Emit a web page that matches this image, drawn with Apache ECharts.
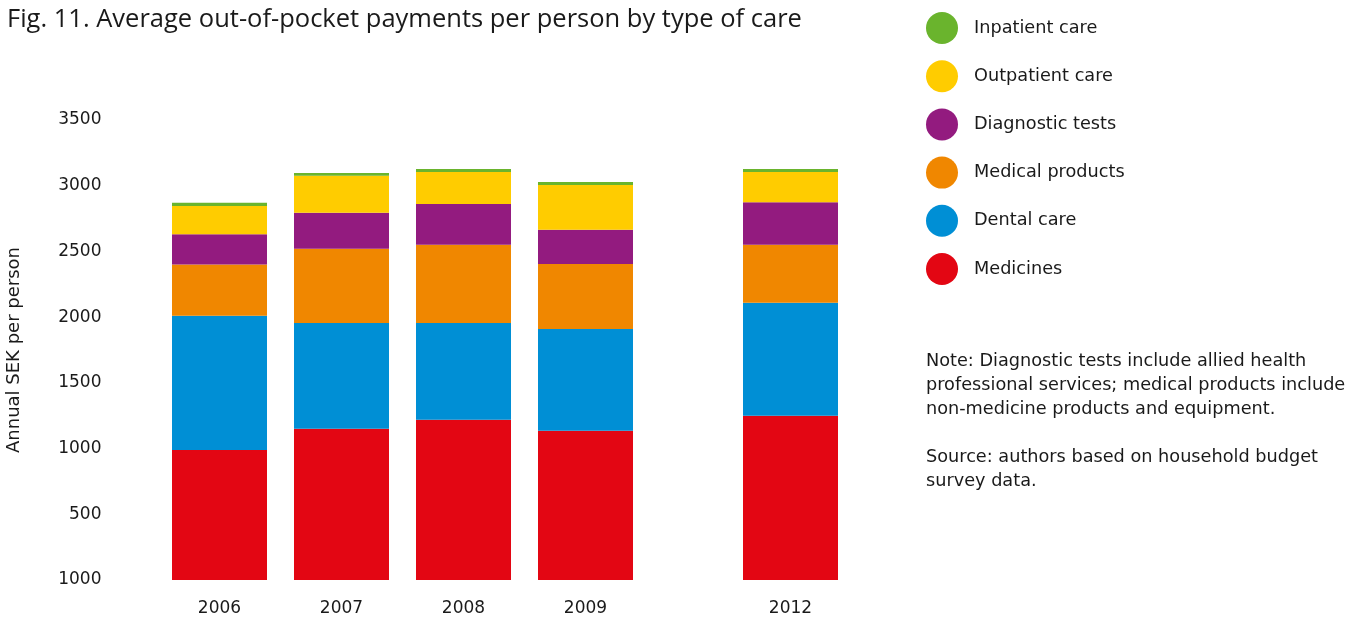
<!DOCTYPE html>
<html>
<head>
<meta charset="utf-8">
<script src="https://cdn.jsdelivr.net/npm/echarts@6/dist/echarts.min.js"></script>
<style>html,body{margin:0;padding:0;background:#fff;}#c{width:1361px;height:619px;}</style>
</head>
<body>
<div id="c"></div>
<script>
const years = ['2006', '2007', '2008', '2009', '2012'];
const medicines = [990, 1150, 1220, 1135, 1250];
const dentalCare = [1020, 805, 735, 775, 860];
const medicalProducts = [390, 565, 595, 495, 440];
const diagnosticTests = [230, 275, 310, 260, 325];
const outpatientCare = [215, 280, 245, 340, 230];
const inpatientCare = [25, 22, 22, 23, 22];
const yTickLabels = ['1000', '500', '1000', '1500', '2000', '2500', '3000', '3500'];

// years 2006-2009 in the first block, 2012 in a second block after a gap
const splitAt = 4;
const font = '"DejaVu Sans", "Noto Sans", sans-serif';
const txt = '#1a1a1a';

const seriesDefs = [
  ['Medicines', medicines, '#e30613'],
  ['Dental care', dentalCare, '#008fd5'],
  ['Medical products', medicalProducts, '#f08700'],
  ['Diagnostic tests', diagnosticTests, '#931b7f'],
  ['Outpatient care', outpatientCare, '#ffcc00'],
  ['Inpatient care', inpatientCare, '#6ab42d']
];

const xAxisCommon = {
  type: 'category',
  axisLine: { show: false }, axisTick: { show: false }, splitLine: { show: false },
  axisLabel: { fontFamily: font, fontSize: 17, color: txt, margin: 20 }
};
const yAxisCommon = {
  type: 'value', min: 0, max: 3500, interval: 500,
  axisLine: { show: false }, axisTick: { show: false }, splitLine: { show: false }
};

const series = [];
seriesDefs.forEach(([name, vals, color]) => {
  series.push({ name, type: 'bar', stack: 'a', barWidth: 95, xAxisIndex: 0, yAxisIndex: 0,
    itemStyle: { color }, data: vals.slice(0, splitAt) });
  series.push({ name, type: 'bar', stack: 'b', barWidth: 95, xAxisIndex: 1, yAxisIndex: 1,
    itemStyle: { color }, data: vals.slice(splitAt) });
});

const chart = echarts.init(document.getElementById('c'));
chart.setOption({
  animation: false,
  title: {
    text: 'Fig. 11. Average out-of-pocket payments per person by type of care',
    left: 2, top: 2,
    textStyle: { fontFamily: '"Open Sans", sans-serif', fontSize: 25.5, fontWeight: 'normal', color: txt }
  },
  legend: {
    orient: 'vertical',
    left: 926, top: 12, padding: 0,
    icon: 'circle',
    itemWidth: 32, itemHeight: 32, itemGap: 16.2,
    data: seriesDefs.map(d => d[0]).reverse(),
    textStyle: { fontFamily: font, fontSize: 17.7, color: txt, padding: [0, 0, 0, 11] },
    selectedMode: false
  },
  grid: [
    { left: 158.5, width: 488, top: 120, height: 460 },
    { left: 729.5, width: 122, top: 120, height: 460 }
  ],
  xAxis: [
    Object.assign({ gridIndex: 0, data: years.slice(0, splitAt) }, xAxisCommon),
    Object.assign({ gridIndex: 1, data: years.slice(splitAt) }, xAxisCommon)
  ],
  yAxis: [
    Object.assign({
      gridIndex: 0,
      name: 'Annual SEK per person',
      nameLocation: 'middle', nameGap: 135,
      nameTextStyle: { fontFamily: font, fontSize: 18, color: txt },
      axisLabel: { formatter: v => yTickLabels[Math.round(v / 500)], fontFamily: font, fontSize: 17, color: txt, margin: 57, lineHeight: 21, verticalAlign: 'middle' }
    }, yAxisCommon),
    Object.assign({ gridIndex: 1, axisLabel: { show: false } }, yAxisCommon)
  ],
  series,
  graphic: [{
    type: 'text', left: 926, top: 349,
    style: {
      text: 'Note: Diagnostic tests include allied health\nprofessional services; medical products include\nnon-medicine products and equipment.\n\nSource: authors based on household budget\nsurvey data.',
      font: '17.7px "DejaVu Sans", "Noto Sans", sans-serif',
      lineHeight: 24, fill: txt
    }
  }]
});
</script>
</body>
</html>
